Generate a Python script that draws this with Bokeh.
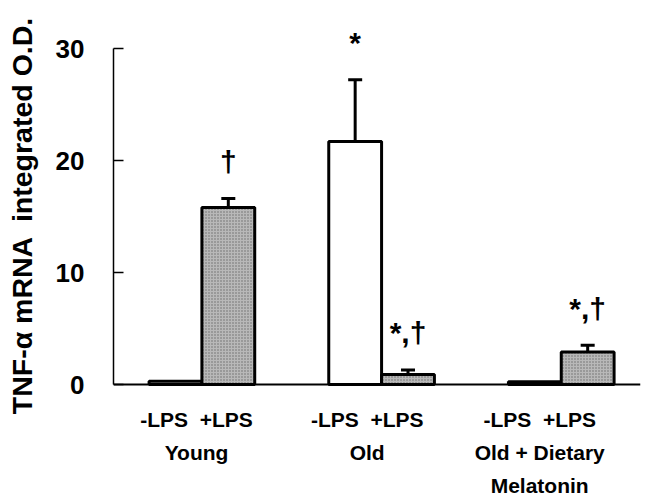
from bokeh.plotting import figure
from bokeh.models import Range1d, Whisker, TeeHead, Span, ColumnDataSource, FixedTicker
from bokeh.core.properties import value
from bokeh.embed import file_html
from bokeh.resources import INLINE

# ---- data ----
groups = ["Young", "Old", "Old + Dietary\nMelatonin"]
group_pos = [1, 2, 3]
minus_lps = [0.3, 21.7, 0.25]
minus_err = [0.0, 5.5, 0.0]
plus_lps = [15.8, 0.9, 2.9]
plus_err = [0.8, 0.4, 0.6]
minus_marks = ["", "*", ""]
plus_marks = ["\u2020", "*,\u2020", "*,\u2020"]
y_ticks = [0, 10, 20, 30]
sub_label = "-LPS \u00a0+LPS"
y_title = "TNF-\u03b1 mRNA \u00a0integrated O.D."

# ---- layout ----
W, H = 646, 501
FONT = value("Liberation Sans")
px_per_unit = 11.2
zero_px = 384                 # canvas px of y=0 from top
frame_top, frame_bot = 29, 401
y0 = -(frame_bot - zero_px) / px_per_unit
y1 = (zero_px - frame_top) / px_per_unit
bar_w = 0.294
x0, x1 = 0.508, 3.441

p = figure(width=W, height=H, output_backend="svg", toolbar_location=None,
           x_range=Range1d(x0, x1), y_range=Range1d(y0, y1),
           min_border_left=113, min_border_right=6,
           min_border_top=frame_top, min_border_bottom=H - frame_bot, tools="")
p.outline_line_color = None
p.grid.visible = False
p.background_fill_color = "white"

ax = p.yaxis[0]
ax.bounds = (0, 30)
ax.ticker = FixedTicker(ticks=y_ticks)
ax.major_tick_in = 10
ax.major_tick_out = 0
ax.minor_tick_line_color = None
ax.axis_line_width = 1.5
ax.major_tick_line_width = 1.5
ax.major_label_text_font = "Liberation Sans"
ax.major_label_text_font_style = "bold"
ax.major_label_text_font_size = "26px"
ax.major_label_text_color = "black"
ax.major_label_standoff = 29
ax.axis_label = y_title
ax.axis_label_text_font = "Liberation Sans"
ax.axis_label_text_font_style = "bold"
ax.axis_label_text_font_size = "28.5px"
ax.axis_label_text_color = "black"
ax.axis_label_standoff = 15

xm = [g - bar_w / 2 for g in group_pos]
xp = [g + bar_w / 2 for g in group_pos]

# baseline
p.add_layout(Span(location=0, dimension="width", line_color="black", line_width=2))

p.vbar(x=xm, top=minus_lps, bottom=0, width=bar_w, fill_color="white",
       line_color="black", line_width=3)
p.vbar(x=xp, top=plus_lps, bottom=0, width=bar_w, fill_color="#b8b8b8",
       hatch_pattern="dot", hatch_color="#333333", hatch_scale=3, hatch_weight=1,
       hatch_alpha=0.6, line_color="black", line_width=3)

# error bars (upper only)
ex, elo, ehi = [], [], []
for xs, vals, errs in ((xm, minus_lps, minus_err), (xp, plus_lps, plus_err)):
    for x, v, e in zip(xs, vals, errs):
        if e > 0:
            ex.append(x); elo.append(v); ehi.append(v + e)
esrc = ColumnDataSource(dict(x=ex, lo=elo, hi=ehi))
p.add_layout(Whisker(base="x", lower="lo", upper="hi", source=esrc,
                     line_color="black", line_width=3, lower_head=None,
                     upper_head=TeeHead(size=14, line_width=3, line_color="black")))

# significance marks
mx, my, mt = [], [], []
for xs, vals, errs, marks in ((xm, minus_lps, minus_err, minus_marks),
                              (xp, plus_lps, plus_err, plus_marks)):
    for x, v, e, m in zip(xs, vals, errs, marks):
        if m:
            mx.append(x); my.append(v + e + 3.3); mt.append(m)
p.text(x=mx, y=my, text=mt, text_align="center", text_baseline="alphabetic",
       text_font=FONT, text_font_style="bold", text_font_size="30px", text_color="black")

# category labels on the x axis
label_shift = [-0.03, -0.08, -0.12]
lx = [g + s for g, s in zip(group_pos, label_shift)]
xa = p.xaxis[0]
xa.ticker = FixedTicker(ticks=lx)
xa.major_label_overrides = {x: sub_label + "\n" + g for x, g in zip(lx, groups)}
xa.axis_line_color = None
xa.major_tick_line_color = None
xa.minor_tick_line_color = None
xa.major_label_standoff = 0
xa.major_label_text_font = "Liberation Sans"
xa.major_label_text_font_style = "bold"
xa.major_label_text_font_size = "21px"
xa.major_label_text_color = "black"
xa.major_label_text_line_height = 1.45

open("out.html", "w").write(file_html(p, INLINE))
